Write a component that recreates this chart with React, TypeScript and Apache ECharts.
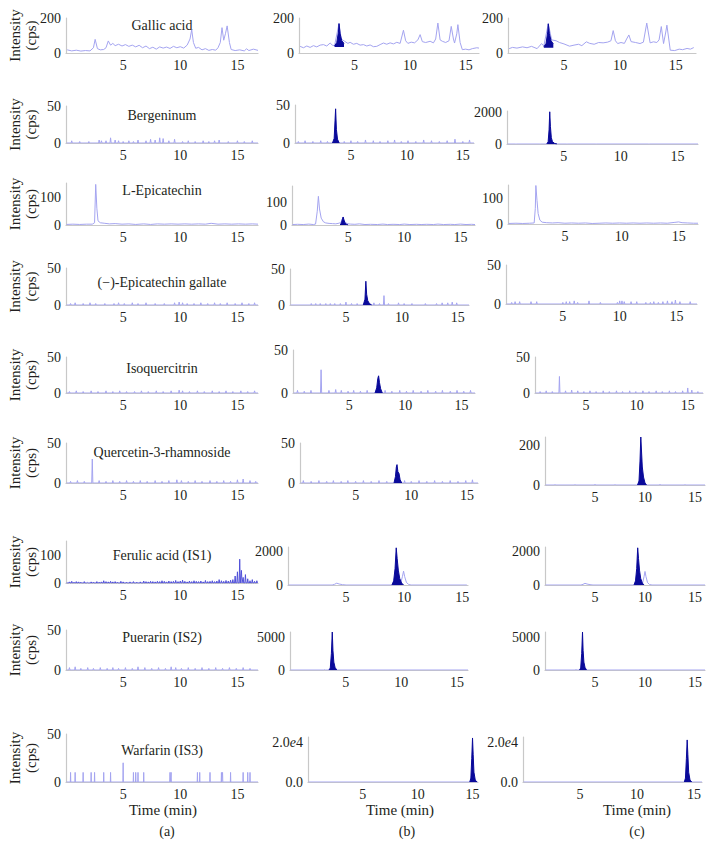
import React, { useEffect, useRef } from "react";
import * as echarts from "echarts";

type P = [number, number];

// ---------- text ----------
const compounds = [
  "Gallic acid",
  "Bergeninum",
  "L-Epicatechin",
  "(\u2212)-Epicatechin gallate",
  "Isoquercitrin",
  "Quercetin-3-rhamnoside",
  "Ferulic acid (IS1)",
  "Puerarin (IS2)",
  "Warfarin (IS3)",
];
const panelLetters = ["(a)", "(b)", "(c)"];
const xTitle = "Time (min)";
const yTitle1 = "Intensity";
const yTitle2 = "(cps)";
const xTicks = [5, 10, 15];

// y tick values, [row][col]
const yTicks: number[][][] = [
  [[0, 200], [0, 200], [0, 200]],
  [[0, 50], [0, 50], [0, 2000]],
  [[0, 100], [0, 100], [0, 100]],
  [[0, 50], [0, 50], [0, 50]],
  [[0, 50], [0, 50], [0, 50]],
  [[0, 50], [0, 50], [0, 200]],
  [[0, 100], [0, 2000], [0, 2000]],
  [[0, 50], [0, 5000], [0, 5000]],
  [[0, 50], [0, 20000], [0, 20000]],
];
const yMaxes: number[][] = [
  [200, 200, 200],
  [50, 50, 2100],
  [150, 170, 150],
  [50, 50, 50],
  [50, 50, 50],
  [50, 50, 240],
  [150, 2300, 2300],
  [50, 5800, 5800],
  [50, 23000, 23000],
];
const xMaxes: number[][] = [
  [16.8, 16.2, 16.8],
  [16.8, 16.0, 16.8],
  [16.8, 16.3, 16.7],
  [16.8, 16.0, 16.8],
  [16.8, 16.2, 16.5],
  [16.8, 16.0, 16.0],
  [16.8, 15.5, 16.0],
  [16.8, 16.0, 16.0],
  [16.8, 15.5, 15.7],
];

// ---------- data ----------
// Row 1: Gallic acid
const gallicA: P[] = [[0.1,18],[0.5,12],[0.9,16],[1.3,11],[1.7,14],[2.1,12],[2.4,30],[2.55,78],[2.75,25],[3.0,18],[3.3,20],[3.5,30],[3.7,69],[3.9,45],[4.1,55],[4.3,42],[4.6,50],[4.9,40],[5.2,48],[5.5,38],[5.8,45],[6.1,35],[6.4,44],[6.7,30],[7.0,40],[7.3,25],[7.6,33],[7.9,22],[8.2,35],[8.5,28],[8.8,34],[9.1,26],[9.4,38],[9.7,30],[10.0,36],[10.3,28],[10.6,45],[10.85,80],[11.0,133],[11.15,60],[11.35,27],[11.6,32],[11.9,18],[12.2,25],[12.5,15],[12.8,20],[13.1,16],[13.3,30],[13.5,60],[13.65,145],[13.8,73],[13.95,110],[14.1,155],[14.3,60],[14.45,20],[14.8,14],[15.2,18],[15.6,12],[15.8,24],[16.0,14],[16.4,22],[16.8,15]];
const gallicB: P[] = [[0.1,38],[0.4,30],[0.7,40],[1.0,32],[1.3,42],[1.6,35],[1.9,45],[2.2,48],[2.5,40],[2.8,57],[3.0,45],[3.2,42],[3.6,168],[3.8,80],[4.1,67],[4.4,55],[4.6,61],[4.9,50],[5.2,55],[5.5,45],[5.8,48],[6.1,40],[6.4,46],[6.7,36],[7.0,38],[7.3,48],[7.6,57],[7.9,50],[8.2,58],[8.5,52],[8.8,61],[9.1,55],[9.4,130],[9.6,70],[9.8,55],[10.1,62],[10.4,58],[10.7,75],[10.9,105],[11.1,65],[11.4,60],[11.8,67],[12.1,58],[12.3,80],[12.5,171],[12.7,75],[12.9,67],[13.2,60],[13.5,70],[13.7,152],[13.9,80],[14.0,57],[14.2,110],[14.3,162],[14.5,60],[14.7,19],[15.0,22],[15.3,18],[15.6,25],[16.0,30],[16.2,28]];
const gallicBPeak: P[] = [[3.2,40],[3.4,60],[3.55,120],[3.6,168],[3.7,110],[3.85,70],[4.05,55]];
const gallicC: P[] = [[0.1,25],[0.4,32],[0.8,28],[1.3,35],[1.7,30],[2.1,38],[2.6,25],[3.0,54],[3.2,40],[3.6,167],[3.9,75],[4.3,70],[4.6,60],[5.0,52],[5.5,39],[5.9,45],[6.3,50],[6.6,42],[7.0,64],[7.3,55],[7.7,50],[8.1,60],[8.5,58],[8.9,62],[9.2,70],[9.4,128],[9.6,70],[9.8,54],[10.1,60],[10.4,55],[10.6,80],[10.8,103],[11.0,65],[11.4,60],[11.8,54],[12.1,62],[12.4,171],[12.7,58],[13.0,64],[13.3,60],[13.5,75],[13.7,151],[13.9,54],[14.1,120],[14.2,159],[14.5,16],[14.9,14],[15.3,22],[15.6,19],[16.0,26],[16.3,22],[16.6,31]];
const gallicCPeak: P[] = [[3.2,35],[3.4,55],[3.55,120],[3.6,167],[3.7,110],[3.85,70],[4.05,52]];

// Row 2: Bergeninum
const bergA: P[] = [[0.5,3],[1.2,2],[2.0,2],[2.9,4],[3.1,3],[3.5,3],[3.9,7],[4.3,4],[4.6,3],[5.0,2],[5.5,3],[5.9,2],[6.3,4],[7.0,3],[7.4,5],[7.8,4],[8.2,7],[8.5,6],[9.0,3],[9.5,5],[10.2,2],[10.7,3],[11.3,2],[12.0,3],[12.5,2],[13.0,3],[13.4,4],[14.2,2],[15.0,3],[15.6,2],[16.3,3]];
const bergB: P[] = [[0.3,2],[0.9,3],[1.6,2],[2.3,3],[2.9,2],[4.4,2],[5.0,3],[5.6,2],[6.3,4],[7.0,3],[7.6,2],[8.3,3],[8.9,4],[9.5,2],[10.1,3],[10.8,2],[11.5,4],[12.2,3],[12.9,2],[13.6,3],[14.3,5],[15.0,2],[15.6,4]];
const bergBPeak: P[] = [[3.35,0],[3.5,6],[3.58,30],[3.63,45],[3.7,18],[3.8,5],[3.95,0]];
const bergC: P[] = [[0.8,8],[2.9,30],[5.3,10],[7.8,8],[12.5,10]];
const bergCPeak: P[] = [[3.5,0],[3.62,150],[3.7,900],[3.76,2050],[3.82,1100],[3.9,400],[4.0,150],[4.2,30],[4.4,0]];

// Row 3: L-Epicatechin
const epiA: P[] = [[0.05,2],[0.6,3],[1.2,2],[1.8,3],[2.3,3],[2.5,8],[2.6,145],[2.7,60],[2.8,15],[3.0,8],[3.4,6],[3.8,4],[4.3,5],[4.9,3],[5.5,4],[6.1,2],[6.8,4],[7.4,2],[8.0,4],[8.6,3],[9.2,4],[9.8,3],[10.4,4],[11.0,3],[11.6,4],[12.2,3],[12.7,6],[13.3,3],[13.9,4],[14.5,3],[15.1,4],[15.7,3],[16.3,4],[16.8,3]];
const epiB: P[] = [[0.05,2],[0.5,3],[1.0,2],[1.5,4],[1.9,2],[2.1,4],[2.25,60],[2.35,125],[2.45,70],[2.6,30],[2.8,14],[3.0,9],[3.3,7],[3.6,6],[3.9,5],[4.2,8],[4.4,14],[4.55,35],[4.7,14],[4.9,6],[5.2,4],[5.6,3],[6.0,5],[6.5,2],[7.0,3],[7.6,2],[8.1,4],[8.5,2],[9.0,3],[9.6,2],[10.0,4],[10.5,2],[11.1,3],[11.5,2],[12.0,3],[12.6,2],[13.0,4],[13.5,2],[14.1,3],[14.5,2],[15.0,4],[15.5,2],[16.0,3],[16.3,2]];
const epiBPeak: P[] = [[4.3,0],[4.42,12],[4.5,28],[4.56,35],[4.62,22],[4.72,10],[4.85,3],[5.0,0]];
const epiC: P[] = [[0.05,2],[0.7,3],[1.3,2],[1.9,3],[2.3,4],[2.4,60],[2.45,148],[2.55,90],[2.65,40],[2.8,15],[3.0,7],[3.4,5],[3.9,4],[4.4,5],[5.0,3],[5.6,4],[6.2,3],[6.8,4],[7.4,2],[8.0,3],[8.6,4],[9.2,3],[9.8,4],[10.4,3],[11.0,4],[11.6,3],[12.2,4],[12.8,3],[13.4,4],[14.0,3],[14.6,6],[15.0,8],[15.3,5],[15.8,4],[16.3,3],[16.7,3]];

// Row 4: (-)-Epicatechin gallate
const egcA: P[] = [[0.4,2],[0.8,3],[1.5,2],[2.1,3],[2.6,2],[3.4,2],[4.2,2],[4.6,3],[5.1,2],[5.8,3],[6.3,2],[7.0,3],[7.8,2],[8.6,2],[9.5,3],[9.9,4],[10.2,3],[10.6,2],[11.2,2],[11.8,3],[12.4,2],[13.0,3],[13.5,2],[14.1,3],[14.8,2],[15.4,3],[16.0,2],[16.5,3]];
const egcB: P[] = [[1.9,2],[2.3,2],[2.7,2],[3.2,2],[3.6,2],[4.0,2],[4.5,2],[5.0,4],[5.5,2],[6.0,2],[7.5,3],[8.0,2],[8.4,13],[8.8,2],[9.7,3],[10.2,2],[10.9,2],[12.1,2],[13.1,2],[13.6,3],[14.1,3],[14.5,4],[14.9,3]];
const egcBPeak: P[] = [[6.55,0],[6.7,8],[6.78,33],[6.85,15],[6.95,6],[7.1,2],[7.3,0]];
const egcC: P[] = [[0.5,2],[0.8,3],[1.2,3],[2.2,3],[2.7,3],[5.0,2],[5.3,3],[5.6,3],[6.0,4],[6.3,2],[7.3,4],[8.3,2],[9.8,2],[10.0,4],[10.2,4],[10.4,3],[11.0,3],[11.5,3],[12.3,2],[12.7,2],[13.0,3],[13.4,2],[13.8,3],[14.2,4],[14.6,3],[14.9,5],[15.3,3],[16.2,3]];

// Row 5: Isoquercitrin
const isoA: P[] = [[0.3,2],[0.9,3],[1.5,2],[2.2,3],[2.8,2],[3.5,3],[4.1,2],[4.7,3],[5.3,2],[6.0,2],[6.6,3],[7.2,2],[7.9,3],[8.5,2],[9.2,3],[9.9,4],[10.2,3],[10.8,2],[11.5,3],[12.1,2],[12.8,3],[13.4,2],[14.0,3],[14.6,2],[15.3,3],[15.9,2],[16.5,3]];
const isoB: P[] = [[0.4,3],[1.0,2],[1.6,3],[2.5,27],[3.2,3],[3.8,4],[4.3,3],[4.9,2],[5.4,3],[6.0,2],[6.6,3],[8.2,3],[8.8,2],[9.5,3],[10.1,2],[10.7,3],[11.4,2],[12.0,3],[12.7,2],[13.3,3],[14.0,2],[14.6,3],[15.2,2],[15.8,3]];
const isoBPeak: P[] = [[7.3,0],[7.45,6],[7.55,17],[7.62,20],[7.7,12],[7.8,5],[7.95,0]];
const isoC: P[] = [[0.5,2],[1.1,3],[1.7,2],[2.4,23],[3.0,3],[3.6,4],[4.2,3],[4.8,2],[5.4,3],[6.0,2],[6.7,3],[7.3,2],[8.0,3],[8.6,2],[9.3,3],[9.9,2],[10.6,3],[11.2,2],[11.9,3],[12.5,2],[13.2,3],[13.8,2],[14.5,3],[15.0,7],[15.4,4],[16.0,2]];

// Row 6: Quercetin-3-rhamnoside
const querA: P[] = [[0.4,2],[1.0,3],[1.6,2],[2.3,30],[2.9,3],[3.5,2],[4.1,3],[4.7,2],[5.3,3],[5.9,2],[6.5,3],[7.1,2],[7.8,3],[8.4,2],[9.0,3],[9.7,4],[10.1,3],[10.7,2],[11.3,3],[11.9,2],[12.6,3],[13.2,2],[13.8,3],[14.4,2],[15.0,4],[15.5,5],[16.1,3],[16.6,2]];
const querB: P[] = [[0.3,3],[1.0,2],[1.7,3],[2.4,2],[3.0,3],[3.7,2],[4.3,3],[5.0,2],[5.7,3],[6.4,2],[7.1,3],[7.8,2],[9.4,3],[10.0,2],[10.7,3],[11.4,2],[12.1,3],[12.8,2],[13.5,3],[14.2,2],[14.9,3],[15.5,4]];
const querBPeak: P[] = [[8.45,0],[8.58,8],[8.66,20],[8.72,23],[8.8,14],[8.9,12],[9.0,4],[9.15,0]];
const querC: P[] = [[1.0,3],[3.0,3],[5.0,4],[7.0,3],[11.5,4],[14.0,3]];
const querCPeak: P[] = [[9.25,0],[9.4,20],[9.5,120],[9.58,240],[9.65,170],[9.73,90],[9.85,40],[10.0,10],[10.15,0]];

// Row 7: Ferulic acid (IS1)
const ferA: P[] = [[0.3,4],[0.5,6],[0.7,3],[0.9,5],[1.1,4],[1.3,3],[1.6,5],[1.9,2],[2.2,4],[2.4,3],[2.7,5],[2.9,3],[3.1,4],[3.3,8],[3.5,5],[3.7,4],[3.9,6],[4.1,4],[4.3,5],[4.5,3],[4.8,6],[5.0,4],[5.3,3],[5.6,4],[5.9,5],[6.2,3],[6.5,4],[6.8,7],[7.0,5],[7.2,4],[7.4,6],[7.6,5],[7.8,4],[8.0,6],[8.2,5],[8.4,8],[8.6,6],[8.8,4],[9.0,7],[9.2,5],[9.4,6],[9.6,9],[9.8,5],[10.0,7],[10.2,10],[10.4,6],[10.6,4],[10.8,7],[11.0,5],[11.2,8],[11.4,6],[11.6,5],[11.8,7],[12.0,4],[12.2,9],[12.4,5],[12.6,6],[12.8,8],[13.0,5],[13.2,7],[13.4,12],[13.6,8],[13.8,6],[14.0,9],[14.2,7],[14.4,10],[14.6,12],[14.8,25],[15.0,40],[15.2,85],[15.35,45],[15.5,20],[15.7,30],[15.9,15],[16.1,8],[16.3,12],[16.5,6],[16.7,8]];
const ferB: P[] = [[0.05,0],[3.8,0],[4.0,40],[4.2,110],[4.4,60],[4.7,20],[5.0,0],[9.6,0],[9.7,100],[9.85,500],[9.95,840],[10.05,500],[10.2,150],[10.4,30],[10.6,0],[15.4,0]];
const ferBPeak: P[] = [[8.95,0],[9.1,250],[9.22,1000],[9.32,2250],[9.4,1600],[9.5,900],[9.62,400],[9.78,120],[9.95,0]];
const ferC: P[] = [[0.05,0],[3.6,0],[3.8,40],[4.0,100],[4.2,60],[4.5,20],[4.8,0],[9.6,0],[9.75,100],[9.9,500],[10.0,820],[10.1,500],[10.25,150],[10.45,30],[10.7,0],[16.0,0]];
const ferCPeak: P[] = [[8.9,0],[9.05,250],[9.17,1000],[9.27,2250],[9.35,1600],[9.45,900],[9.57,400],[9.73,120],[9.9,0]];

// Row 8: Puerarin (IS2)
const puerA: P[] = [[0.3,3],[0.8,4],[1.3,2],[1.9,3],[2.4,2],[3.0,3],[3.6,2],[4.1,3],[4.6,2],[5.2,3],[5.8,2],[6.3,4],[6.9,3],[7.5,2],[8.1,3],[8.7,2],[9.2,4],[9.6,3],[10.1,2],[10.7,3],[11.3,2],[11.9,3],[12.5,2],[13.1,3],[13.7,2],[14.3,3],[14.9,2],[15.5,3],[16.1,2]];
const puerB: P[] = [[0.05,0],[3.0,0],[3.1,60],[3.2,0],[16.0,0]];
const puerBPeak: P[] = [[3.5,0],[3.62,300],[3.72,2500],[3.8,5800],[3.86,3000],[3.94,1200],[4.05,400],[4.2,0]];
const puerC: P[] = [[0.05,0],[3.0,0],[3.1,60],[3.2,0],[16.0,0]];
const puerCPeak: P[] = [[3.45,0],[3.57,300],[3.67,2500],[3.75,5800],[3.81,3000],[3.89,1200],[4.0,400],[4.15,0]];

// Row 9: Warfarin (IS3)
const warA: P[] = [[0.4,10],[0.8,10],[1.5,10],[2.2,10],[2.5,10],[3.3,10],[3.9,10],[5.0,20],[5.9,10],[6.1,10],[6.3,10],[6.8,10],[9.1,10],[9.2,10],[11.5,10],[11.7,10],[12.6,10],[13.6,10],[13.7,10],[14.4,10],[15.5,10],[15.9,10],[16.1,10]];
const warB: P[] = [[0.05,0],[15.5,0]];
const warBPeak: P[] = [[14.75,0],[14.85,2000],[14.93,12000],[15.0,22500],[15.06,14000],[15.13,5000],[15.25,1000],[15.4,0]];
const warC: P[] = [[0.05,0],[15.7,0]];
const warCPeak: P[] = [[14.15,0],[14.25,2000],[14.33,12000],[14.4,21500],[14.46,14000],[14.53,5000],[14.65,1000],[14.8,0]];

// ---------- layout (pixels) ----------
// [left, right, top, bottom] of each plot area, [row][col]
const geom: number[][][] = [
  [[66, 258, 18, 53], [299, 479, 18, 53], [508, 696, 18, 53]],
  [[66, 258, 106, 143], [295, 474, 105, 143], [507, 698, 111, 144]],
  [[66, 258, 183, 225], [292, 475, 186, 225], [508, 698, 185, 224]],
  [[66, 258, 268, 305], [290, 469, 269, 305], [506, 697, 265, 304]],
  [[66, 258, 357, 393], [293, 475, 350, 393], [535, 703, 357, 393]],
  [[66, 258, 443, 483], [300, 478, 443, 483], [545, 705, 437, 485]],
  [[66, 258, 541, 583], [288, 468, 547, 585], [545, 705, 547, 585]],
  [[66, 258, 630, 670], [290, 468, 632, 670], [545, 705, 632, 670]],
  [[66, 258, 734, 782], [308, 478, 737, 782], [523, 702, 737, 782]],
];
const titleY = [25, 115, 190, 282, 368, 452, 555, 637, 750];

const LIGHT = "#a4a4f0";
const DARK = "#0a0a9a";
const MEDIUM = "#5050d8";
const AXIS = "#c8c8c8";
const TEXT = "#231f20";
const FONT = "Liberation Serif";

type Panel = { trace: P[]; spikes?: boolean; w?: number; color?: string; peak?: P[]; origin?: number };

function spikeLine(list: P[], end: number, w: number): P[] {
  const out: P[] = [[0.05, 0]];
  for (const [t, h] of list) out.push([t - w, 0], [t, h], [t + w, 0]);
  out.push([end, 0]);
  return out;
}

const panels: Panel[][] = [
  [{ trace: gallicA }, { trace: gallicB, peak: gallicBPeak, origin: 35 }, { trace: gallicC, peak: gallicCPeak, origin: 30 }],
  [{ trace: bergA, spikes: true }, { trace: bergB, spikes: true, peak: bergBPeak }, { trace: bergC, spikes: true, peak: bergCPeak }],
  [{ trace: epiA }, { trace: epiB, peak: epiBPeak }, { trace: epiC }],
  [{ trace: egcA, spikes: true }, { trace: egcB, spikes: true, peak: egcBPeak }, { trace: egcC, spikes: true }],
  [{ trace: isoA, spikes: true }, { trace: isoB, spikes: true, peak: isoBPeak }, { trace: isoC, spikes: true }],
  [{ trace: querA, spikes: true }, { trace: querB, spikes: true, peak: querBPeak }, { trace: querC, spikes: true, peak: querCPeak }],
  [{ trace: ferA, spikes: true, color: MEDIUM }, { trace: ferB, peak: ferBPeak }, { trace: ferC, peak: ferCPeak }],
  [{ trace: puerA, spikes: true }, { trace: puerB, peak: puerBPeak }, { trace: puerC, peak: puerCPeak }],
  [{ trace: warA, spikes: true, w: 0.02 }, { trace: warB, peak: warBPeak }, { trace: warC, peak: warCPeak }],
];

function buildOption() {
  const grid: any[] = [];
  const xAxis: any[] = [];
  const yAxis: any[] = [];
  const series: any[] = [];
  const graphic: any[] = [];
  for (let r = 0; r < 9; r++) {
    for (let c = 0; c < 3; c++) {
      const i = r * 3 + c;
      const [l, rt, t, b] = geom[r][c];
      const xMax = xMaxes[r][c];
      grid.push({ left: l, top: t, width: rt - l, height: b - t, outerBoundsMode: "none" });
      xAxis.push({
        gridIndex: i, type: "value", min: 0, max: xMax,
        axisLine: { show: true, lineStyle: { color: AXIS, width: 1.2 } },
        axisTick: { show: false }, splitLine: { show: false },
        axisLabel: { customValues: xTicks, color: TEXT, fontFamily: FONT, fontSize: 14, margin: 5 },
      });
      const sci = r === 8 && c > 0;
      yAxis.push({
        gridIndex: i, type: "value", min: 0, max: yMaxes[r][c],
        axisLine: { show: true, lineStyle: { color: AXIS, width: 1.2 } },
        axisTick: { show: false }, splitLine: { show: false },
        axisLabel: {
          customValues: yTicks[r][c], color: TEXT, fontFamily: FONT, fontSize: 14, margin: 5,
          formatter: sci ? (v: number) => (v === 0 ? "0.0" : "2.0{e|e}4") : (v: number) => String(v),
          rich: { e: { fontStyle: "italic", fontFamily: FONT, fontSize: 14, color: TEXT } },
        },
      });
      const p = panels[r][c];
      const data = p.spikes ? spikeLine(p.trace, xMax, p.w ?? 0.05) : p.trace;
      series.push({
        type: "line", xAxisIndex: i, yAxisIndex: i, data, symbol: "none", silent: true,
        lineStyle: { color: p.color ?? LIGHT, width: 1 }, z: 2,
      });
      if (p.peak) {
        series.push({
          type: "line", xAxisIndex: i, yAxisIndex: i, data: p.peak, symbol: "none", silent: true,
          lineStyle: { color: DARK, width: 1 },
          areaStyle: { color: DARK, opacity: 1, origin: p.origin ?? "start" }, z: 3,
        });
      }
    }
    const [, , t0, b0] = geom[r][0];
    const cy = (t0 + b0) / 2;
    graphic.push(
      { type: "text", x: 15, y: cy, rotation: Math.PI / 2, style: { text: yTitle1, font: `15px ${FONT}`, fill: TEXT, align: "center", verticalAlign: "middle" } },
      { type: "text", x: 31, y: cy, rotation: Math.PI / 2, style: { text: yTitle2, font: `15px ${FONT}`, fill: TEXT, align: "center", verticalAlign: "middle" } },
      { type: "text", x: 162, y: titleY[r], style: { text: compounds[r], font: `14px ${FONT}`, fill: TEXT, align: "center", verticalAlign: "middle" } },
    );
  }
  const xCenters = [163, 400, 637];
  const letterCenters = [167, 407, 637];
  for (let c = 0; c < 3; c++) {
    graphic.push(
      { type: "text", x: xCenters[c], y: 810, style: { text: xTitle, font: `15px ${FONT}`, fill: TEXT, align: "center", verticalAlign: "middle" } },
      { type: "text", x: letterCenters[c], y: 831, style: { text: panelLetters[c], font: `14px ${FONT}`, fill: TEXT, align: "center", verticalAlign: "middle" } },
    );
  }
  return { animation: false, backgroundColor: "#ffffff", grid, xAxis, yAxis, series, graphic };
}

export default function App() {
  const ref = useRef<HTMLDivElement>(null);
  useEffect(() => {
    if (!ref.current) return;
    const chart = echarts.init(ref.current, undefined, { renderer: "svg" });
    chart.setOption(buildOption() as any);
    return () => chart.dispose();
  }, []);
  return <div ref={ref} style={{ position: "absolute", left: 0, top: 0, width: 710, height: 847 }} />;
}
